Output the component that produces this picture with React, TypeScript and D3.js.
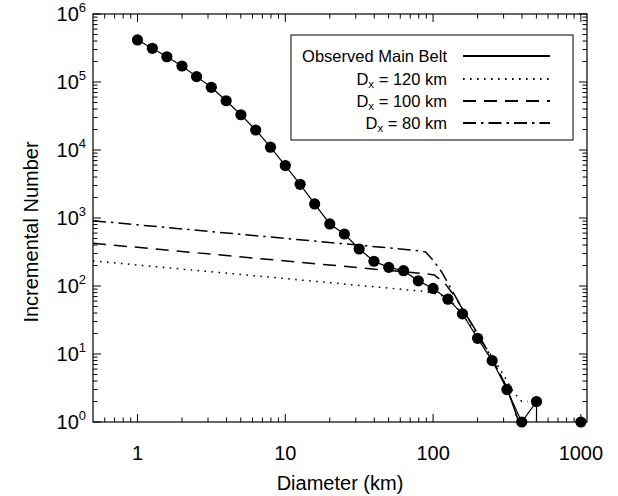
import React from "react";
import * as d3 from "d3";

// ---------- data ----------
const obsDiameter = [1.0, 1.26, 1.58, 2.0, 2.51, 3.16, 3.98, 5.01, 6.31, 7.94, 10.0, 12.6, 15.8, 20.0, 25.1, 31.6, 39.8, 50.1, 63.1, 79.4, 100, 126, 158, 200, 251, 316, 398, 501, 1000];
const obsCount = [415000, 313000, 235000, 172000, 120000, 83500, 53000, 33000, 19700, 11000, 5900, 3130, 1610, 817, 582, 350, 231, 188, 168, 119, 92, 64, 39, 17, 8, 3, 1, 2, 1];

const dx120Diameter = [0.5, 89, 112, 132, 158, 200, 251, 302, 347, 398, 437];
const dx120Count = [234, 83, 74, 60, 38, 18.6, 9.1, 4.8, 2.8, 2.0, 2.0];

const dx100Diameter = [0.5, 89, 102, 120, 141, 158, 200, 251, 316, 380];
const dx100Count = [425, 151, 145, 110, 69, 46, 20, 8.5, 3.2, 1];

const dx80Diameter = [0.5, 75, 89, 100, 114, 136, 158, 200, 251, 316, 380];
const dx80Count = [912, 335, 316, 240, 162, 82, 46, 20, 8.5, 3.2, 1];

const xMajorTicks = [1, 10, 100, 1000];
const xTickLabels = ["1", "10", "100", "1000"];
const yMajorExponents = [0, 1, 2, 3, 4, 5, 6];

const legendLabels = ["Observed Main Belt", "120 km", "100 km", "80 km"];

// ---------- layout ----------
const W = 618;
const H = 496;
const L = 93, R = 587, T = 14, B = 422;
const FONT = "'Liberation Sans', Arial, Helvetica, sans-serif";

const x = d3.scaleLog().domain([0.5, 1100]).range([L, R]);
const y = d3.scaleLog().domain([1, 1e6]).range([B, T]);

function minorX(): number[] {
  const out: number[] = [];
  for (let e = -1; e <= 3; e++) {
    for (let m = 2; m <= 9; m++) {
      const v = m * Math.pow(10, e);
      if (v > 0.5 && v < 1100) out.push(v);
    }
  }
  return out;
}
function minorY(): number[] {
  const out: number[] = [];
  for (let e = 0; e < 6; e++) for (let m = 2; m <= 9; m++) out.push(m * Math.pow(10, e));
  return out;
}

const lineGen = d3
  .line<[number, number]>()
  .x((d) => x(d[0]))
  .y((d) => y(d[1]));

function zip(a: number[], b: number[]): [number, number][] {
  return a.map((v, i) => [v, b[i]] as [number, number]);
}

const MAJ = 8;
const MIN = 4.5;

export default function App() {
  const obs = zip(obsDiameter, obsCount);
  // connected part (up to 501 km), then a drop to zero after 501 km
  const obsConnected = obs.slice(0, 28);
  const lastConn = obsConnected[obsConnected.length - 1];

  const models = [
    { d: dx120Diameter, n: dx120Count, dash: "1.6,5.4" },
    { d: dx100Diameter, n: dx100Count, dash: "13,8" },
    { d: dx80Diameter, n: dx80Count, dash: "13,5,2.5,5" },
  ];

  const legX = 291, legY = 35, legW = 282, legH = 105;
  const rowY = [56, 79, 101, 123];
  const textRight = 447;
  const lineX1 = 463, lineX2 = 550;

  return (
    <div style={{ position: "fixed", left: 0, top: 0 }}>
      <svg width={W} height={H} viewBox={`0 0 ${W} ${H}`} style={{ display: "block", background: "#fff" }}>
        <defs>
          <clipPath id="plotclip">
            <rect x={L} y={T - 6} width={R - L} height={B - T + 6} />
          </clipPath>
        </defs>
        <rect x={0} y={0} width={W} height={H} fill="#fff" />

        {/* model curves */}
        <g clipPath="url(#plotclip)" fill="none" stroke="#000" strokeWidth={1.5}>
          {models.map((m, i) => (
            <path key={i} d={lineGen(zip(m.d, m.n)) || ""} strokeDasharray={m.dash} />
          ))}
        </g>

        {/* observed */}
        <g clipPath="url(#plotclip)">
          <path d={lineGen(obsConnected) || ""} fill="none" stroke="#000" strokeWidth={1.2} />
          <line x1={x(lastConn[0])} y1={y(lastConn[1])} x2={x(lastConn[0])} y2={B} stroke="#000" strokeWidth={1.2} />
        </g>
        <g>
          {obs.map((p, i) => (
            <circle key={i} cx={x(p[0])} cy={y(p[1])} r={5.6} fill="#000" />
          ))}
        </g>

        {/* frame */}
        <rect x={L} y={T} width={R - L} height={B - T} fill="none" stroke="#000" strokeWidth={1.2} />

        {/* x ticks */}
        <g stroke="#000" strokeWidth={1}>
          {xMajorTicks.map((v) => (
            <g key={"xM" + v}>
              <line x1={x(v)} x2={x(v)} y1={B} y2={B - MAJ} />
              <line x1={x(v)} x2={x(v)} y1={T} y2={T + MAJ} />
            </g>
          ))}
          {minorX().map((v) => (
            <g key={"xm" + v}>
              <line x1={x(v)} x2={x(v)} y1={B} y2={B - MIN} />
              <line x1={x(v)} x2={x(v)} y1={T} y2={T + MIN} />
            </g>
          ))}
          {yMajorExponents.map((e) => {
            const v = Math.pow(10, e);
            return (
              <g key={"yM" + e}>
                <line x1={L} x2={L + MAJ} y1={y(v)} y2={y(v)} />
                <line x1={R} x2={R - MAJ} y1={y(v)} y2={y(v)} />
              </g>
            );
          })}
          {minorY().map((v) => (
            <g key={"ym" + v}>
              <line x1={L} x2={L + MIN} y1={y(v)} y2={y(v)} />
              <line x1={R} x2={R - MIN} y1={y(v)} y2={y(v)} />
            </g>
          ))}
        </g>

        {/* x tick labels */}
        <g fontFamily={FONT} fontSize={20} fill="#000" textAnchor="middle">
          {xMajorTicks.map((v, i) => (
            <text key={"xl" + v} x={x(v)} y={460}>
              {xTickLabels[i]}
            </text>
          ))}
        </g>

        {/* y tick labels */}
        <g fontFamily={FONT} fill="#000" textAnchor="end">
          {yMajorExponents.map((e) => (
            <text key={"yl" + e} x={86} y={y(Math.pow(10, e)) + 7} fontSize={20}>
              10
              <tspan fontSize={13} dy={-9}>
                {e}
              </tspan>
            </text>
          ))}
        </g>

        {/* axis titles */}
        <text x={(L + R) / 2} y={490} fontFamily={FONT} fontSize={20} textAnchor="middle" fill="#000">
          Diameter (km)
        </text>
        <text
          transform={`translate(38, ${232}) rotate(-90)`}
          fontFamily={FONT}
          fontSize={20}
          textAnchor="middle"
          fill="#000"
        >
          Incremental Number
        </text>

        {/* legend */}
        <rect x={legX} y={legY} width={legW} height={legH} fill="#fff" stroke="#000" strokeWidth={1} />
        <g fontFamily={FONT} fontSize={16.5} fill="#000" textAnchor="end">
          <text x={textRight} y={rowY[0] + 6}>{legendLabels[0]}</text>
          {[1, 2, 3].map((i) => (
            <text key={"lg" + i} x={textRight} y={rowY[i] + 6}>
              D
              <tspan fontSize={11.5} dy={3}>x</tspan>
              <tspan dy={-3}>{" = " + legendLabels[i]}</tspan>
            </text>
          ))}
        </g>
        <g fill="none" stroke="#000" strokeWidth={2}>
          <line x1={lineX1} x2={lineX2} y1={rowY[0]} y2={rowY[0]} />
          {models.map((m, i) => (
            <line key={"ll" + i} x1={lineX1} x2={lineX2} y1={rowY[i + 1]} y2={rowY[i + 1]} strokeDasharray={m.dash} />
          ))}
        </g>
      </svg>
    </div>
  );
}
